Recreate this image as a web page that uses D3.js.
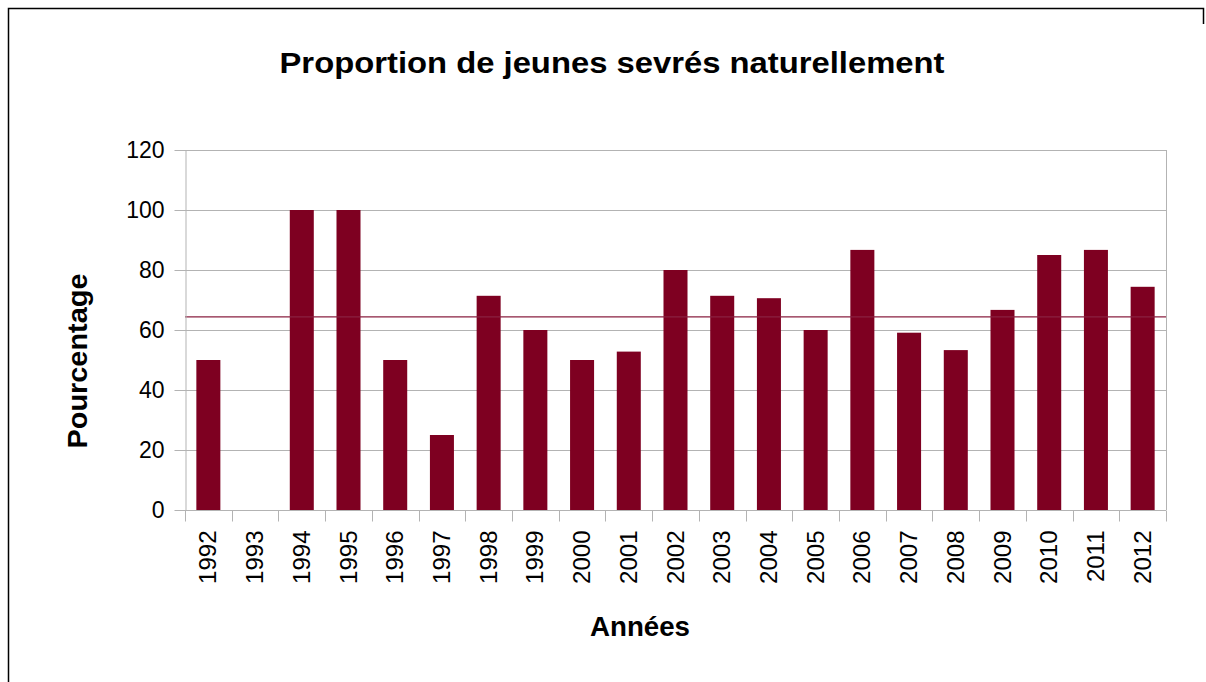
<!DOCTYPE html>
<html>
<head>
<meta charset="utf-8">
<script src="https://cdn.jsdelivr.net/npm/d3@7"></script>
<style>
  body { margin: 0; background: #fff; }
  svg { display: block; font-family: "Liberation Sans", Arial, sans-serif; }
</style>
</head>
<body>
<div id="container"></div>
<script>
const width = 1206, height = 682;
const margin = ({top: 150, right: 40, bottom: 172, left: 185});

// data
const years = ["1992", "1993", "1994", "1995", "1996", "1997", "1998", "1999", "2000", "2001", "2002",
    "2003", "2004", "2005", "2006", "2007", "2008", "2009", "2010", "2011", "2012"];
const percentages = [50, 0, 100, 100, 50, 25, 71.4, 60, 50, 52.8, 80,
    71.4, 70.6, 60, 86.7, 59.1, 53.3, 66.7, 85, 86.7, 74.4];
const meanValue = 64.4;
const yTicks = [0, 20, 40, 60, 80, 100, 120];

const title = "Proportion de jeunes sevrés naturellement",
    xTitle = "Années",
    yTitle = "Pourcentage";

const barColor = "#7e0021",
    gridColor = "#b3b3b3";

let svg = d3.select("#container").append("svg")
    .attr("width", width)
    .attr("height", height);

// outer frame (bottom edge cut off, right edge only visible at the top)
svg.append("path")
    .attr("d", `M8.5,${height + 5}V8.5H1203.5V24`)
    .attr("fill", "none")
    .attr("stroke", "#000")
    .attr("stroke-width", 1.5);

const x = d3.scaleBand()
    .domain(years)
    .range([margin.left, width - margin.right])
    .paddingInner(0.486)
    .paddingOuter(0.243);

const y = d3.scaleLinear()
    .domain([0, 120])
    .range([height - margin.bottom, margin.top]);

// gridlines
svg.append("g")
    .selectAll("line")
    .data(yTicks)
    .join("line")
    .attr("x1", margin.left)
    .attr("x2", width - margin.right)
    .attr("y1", d => Math.round(y(d)) + 0.5)
    .attr("y2", d => Math.round(y(d)) + 0.5)
    .attr("stroke", gridColor);

// right border of the plot area
svg.append("line")
    .attr("x1", width - margin.right + 0.5)
    .attr("x2", width - margin.right + 0.5)
    .attr("y1", margin.top)
    .attr("y2", height - margin.bottom)
    .attr("stroke", gridColor);

// bars
svg.append("g")
    .selectAll("rect")
    .data(percentages)
    .join("rect")
    .attr("x", (d, i) => x(years[i]))
    .attr("width", x.bandwidth())
    .attr("y", d => y(d))
    .attr("height", d => y(0) - y(d))
    .attr("fill", barColor);

// mean line
svg.append("line")
    .attr("x1", margin.left)
    .attr("x2", width - margin.right)
    .attr("y1", y(meanValue))
    .attr("y2", y(meanValue))
    .attr("stroke", "#8a2040")
    .attr("stroke-width", 1.3);

// y axis
const gy = svg.append("g")
    .attr("transform", `translate(${margin.left + 0.5},0)`)
    .call(d3.axisLeft(y).tickValues(yTicks).tickSize(11).tickPadding(10).tickSizeOuter(0));
gy.selectAll("path, line").attr("stroke", gridColor);
gy.selectAll("text")
    .attr("font-size", 23)
    .attr("fill", "#000")
    .attr("font-family", "Liberation Sans, Arial, sans-serif");

// x axis: ticks sit between categories
const gx = svg.append("g")
    .attr("transform", `translate(0,${Math.round(y(0)) + 0.5})`);
gx.append("line")
    .attr("x1", margin.left)
    .attr("x2", width - margin.right)
    .attr("stroke", gridColor);
const bounds = years.map(d => x(d) - x.step() * x.paddingOuter());
bounds.push(width - margin.right);
gx.selectAll(".tick")
    .data(bounds)
    .join("line")
    .attr("class", "tick")
    .attr("x1", d => Math.round(d) + 0.5)
    .attr("x2", d => Math.round(d) + 0.5)
    .attr("y1", 0)
    .attr("y2", 11)
    .attr("stroke", gridColor);
gx.selectAll(".label")
    .data(years)
    .join("text")
    .attr("class", "label")
    .attr("transform", d => `translate(${x(d) + x.bandwidth() / 2 + 8},20) rotate(-90)`)
    .attr("text-anchor", "end")
    .attr("font-size", 24)
    .text(d => d);

// titles
svg.append("text")
    .attr("x", 612)
    .attr("y", 73)
    .attr("text-anchor", "middle")
    .attr("font-weight", "bold")
    .attr("font-size", 30)
    .attr("textLength", 665)
    .attr("lengthAdjust", "spacingAndGlyphs")
    .text(title);

svg.append("text")
    .attr("x", 640)
    .attr("y", 636)
    .attr("text-anchor", "middle")
    .attr("font-weight", "bold")
    .attr("font-size", 28)
    .attr("textLength", 100)
    .attr("lengthAdjust", "spacingAndGlyphs")
    .text(xTitle);

svg.append("text")
    .attr("transform", "translate(87,361) rotate(-90)")
    .attr("text-anchor", "middle")
    .attr("font-weight", "bold")
    .attr("font-size", 28)
    .attr("textLength", 175)
    .attr("lengthAdjust", "spacingAndGlyphs")
    .text(yTitle);
</script>
</body>
</html>
